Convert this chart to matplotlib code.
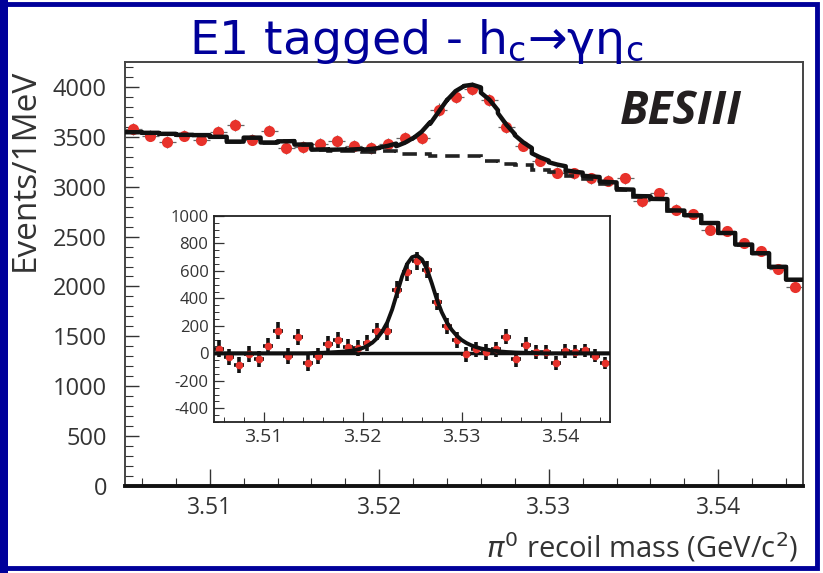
################################################################################
# Import
import numpy as np
import matplotlib
matplotlib.use("Agg")
import matplotlib.pyplot as plt
from matplotlib.ticker import MultipleLocator, FormatStrFormatter
from matplotlib.patches import Rectangle

plt.rcParams["font.family"] = ["Open Sans", "DejaVu Sans"]
plt.rcParams["axes.unicode_minus"] = False

################################################################################
# data
# 1 MeV bins from 3.505 to 3.545 GeV/c^2
bin_edges = 3.505 + 0.001 * np.arange(41)
bin_centers = 3.5055 + 0.001 * np.arange(40)

# events per bin
counts = [3580, 3513, 3447, 3513, 3473, 3553, 3617, 3473, 3563, 3387,
          3400, 3433, 3460, 3407, 3387, 3427, 3487, 3485, 3773, 3900,
          3983, 3867, 3603, 3413, 3262, 3140, 3135, 3085, 3058, 3083,
          2855, 2937, 2770, 2725, 2563, 2553, 2432, 2355, 2180, 1995]

# background shape (dashed histogram)
background = [3546, 3540, 3530, 3520, 3517, 3500, 3452, 3492, 3443, 3455,
              3420, 3367, 3362, 3358, 3350, 3354, 3328, 3326, 3310, 3308,
              3310, 3257, 3227, 3216, 3163, 3147, 3106, 3075, 3030, 2963,
              2899, 2873, 2760, 2713, 2636, 2536, 2420, 2333, 2197, 2068]

# signal line shape, sampled every 0.5 MeV starting at 3.515
signal_start = 3.515
signal = [2, 3, 4, 6, 8, 10, 12, 16, 20, 28,
          38, 55, 78, 112, 160, 225, 320, 440, 560, 650,
          700, 712, 685, 615, 510, 395, 300, 228, 172, 130,
          98, 75, 58, 45, 35, 28, 22, 17, 13, 10,
          8, 6, 5, 4, 3, 2, 1, 0]

red = "#e8322b"
blue = "#00009a"

################################################################################
# build the curves
counts = np.array(counts, dtype=float)
background = np.array(background, dtype=float)
errors = np.sqrt(counts)
residual = counts - background

# signal on the half-MeV grid over the whole range
half_grid = 3.505 + 0.0005 * np.arange(81)
signal_full = np.zeros(81)
i0 = int(round((signal_start - 3.505) / 0.0005))
signal_full[i0:i0 + len(signal)] = signal

# total fit = stepped background + smooth signal
fit_x, fit_y = [], []
for i in range(40):
    for k in range(3):
        fit_x.append(half_grid[2 * i + k])
        fit_y.append(background[i] + signal_full[2 * i + k])

################################################################################
# figure
fig = plt.figure(figsize=(8.23, 5.73), dpi=100)

# blue frame round the slide
fig.add_artist(Rectangle((0.005, 0.0087), 0.988, 0.984, transform=fig.transFigure,
                         fill=False, ec=blue, lw=3.5))
fig.add_artist(Rectangle((0.0, 0.0), 0.0097, 1.0, transform=fig.transFigure,
                         fc=blue, ec="none"))

# ----- main plot ----- #
ax = fig.add_axes([125 / 823, 87 / 573, 678 / 823, 424 / 573])
ax.errorbar(bin_centers, counts, xerr=0.0005, yerr=errors, fmt="none",
            ecolor="#666666", elinewidth=0.9, capsize=0, zorder=2)
ax.plot(bin_centers, counts, "o", color=red, ms=8, mec="none", zorder=3)
ax.stairs(background, bin_edges, baseline=None, color="#222222", lw=2.6,
          ls=(0, (4, 2.2)), zorder=4)
ax.plot(fit_x, fit_y, color="#111111", lw=3.2, zorder=5)

ax.set_xlim(3.505, 3.545)
ax.set_ylim(0, 4250)
ax.xaxis.set_major_locator(MultipleLocator(0.01))
ax.xaxis.set_minor_locator(MultipleLocator(0.002))
ax.xaxis.set_major_formatter(FormatStrFormatter("%.2f"))
ax.yaxis.set_major_locator(MultipleLocator(500))
ax.yaxis.set_minor_locator(MultipleLocator(100))
ax.tick_params(axis="x", which="major", direction="in", length=12, width=1.0,
               pad=7, labelsize=16.5, colors="#333333")
ax.tick_params(axis="x", which="minor", direction="in", length=6, width=0.8,
               colors="#333333")
ax.tick_params(axis="y", which="major", direction="in", length=10, width=1.0,
               pad=13, labelsize=17, colors="#333333")
ax.tick_params(axis="y", which="minor", direction="in", length=6, width=0.8,
               colors="#333333")
for side in ["top", "right", "left"]:
    ax.spines[side].set_color("#444444")
    ax.spines[side].set_linewidth(1.4)
ax.spines["bottom"].set_color("#111111")
ax.spines["bottom"].set_linewidth(2.8)

# ----- inset: background subtracted ----- #
ins = fig.add_axes([214 / 823, 151 / 573, 396 / 823, 206 / 573])
ins.axhline(0, color="#111111", lw=2.5, zorder=2)
ins.errorbar(bin_centers, residual, xerr=0.0005, yerr=errors, fmt="none",
             ecolor="#111111", elinewidth=2.6, capsize=0, zorder=3)
ins.plot(bin_centers, residual, "o", color=red, ms=5.5, mec="none", zorder=4)
ins.plot(half_grid, signal_full, color="#111111", lw=2.8, zorder=5)

ins.set_xlim(3.505, 3.545)
ins.set_ylim(-500, 1000)
ins.xaxis.set_major_locator(MultipleLocator(0.01))
ins.xaxis.set_minor_locator(MultipleLocator(0.002))
ins.xaxis.set_major_formatter(FormatStrFormatter("%.2f"))
ins.yaxis.set_major_locator(MultipleLocator(200))
ins.yaxis.set_minor_locator(MultipleLocator(50))
ins.tick_params(which="major", direction="in", length=7, width=0.9, pad=4,
                labelsize=12, colors="#333333")
ins.tick_params(which="minor", direction="in", length=3.5, width=0.7,
                colors="#333333")
ins.tick_params(axis="x", labelsize=14)
for side in ins.spines:
    ins.spines[side].set_color("#222222")
    ins.spines[side].set_linewidth(1.3)

# ----- texts ----- #
fig.text(416 / 823, 1 - 42 / 573, r"E1 tagged - h$_{\rm c}$→γη$_{\rm c}$",
         family=["DejaVu Sans"], fontsize=34, color=blue,
         ha="center", va="center")
fig.text(620 / 823, 1 - 112 / 573, "BESIII", fontsize=33, fontweight="bold",
         style="italic", color="#231f20", ha="left", va="center")
fig.text(25 / 823, 1 - 170 / 573, "Events/1MeV", fontsize=24, rotation=90,
         color="#333333", ha="center", va="center")
fig.text(798 / 823, 1 - 548 / 573, r"$\pi^0$ recoil mass (GeV/c$^2$)",
         fontsize=21, color="#333333", ha="right", va="center")

fig.savefig("out.png", dpi=100)
